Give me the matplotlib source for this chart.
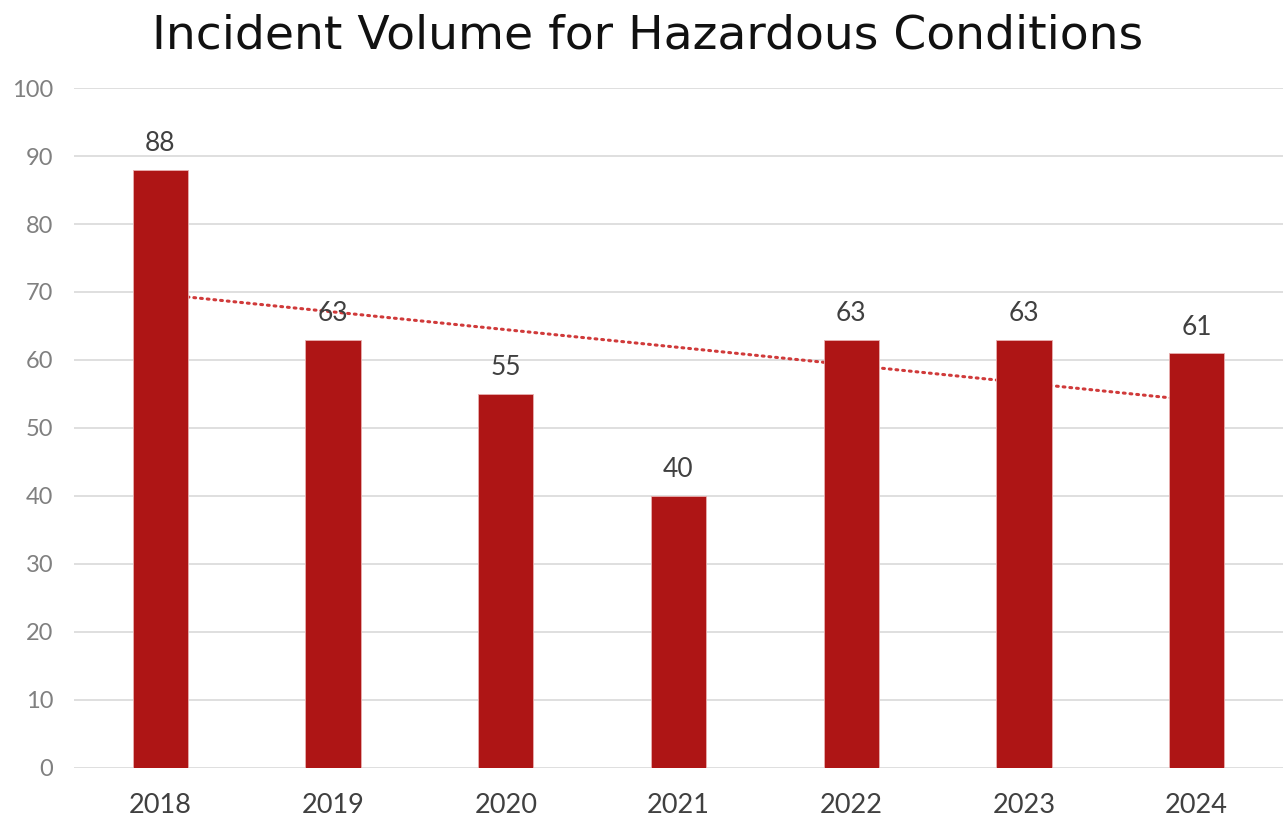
import numpy as np
import matplotlib
matplotlib.use("Agg")
import matplotlib.pyplot as plt

years = ["2018", "2019", "2020", "2021", "2022", "2023", "2024"]
incidents = [88, 63, 55, 40, 63, 63, 61]
y_ticks = [0, 10, 20, 30, 40, 50, 60, 70, 80, 90, 100]

plt.rcParams["font.family"] = ["Lato", "DejaVu Sans"]

fig = plt.figure(figsize=(12.83, 8.21), dpi=100)
ax = fig.add_axes([0.0577, 0.0646, 0.9423, 0.8282])

x = np.arange(len(years))
bar_color = "#AE1515"

# linear trendline, drawn behind the bars
slope, intercept = np.polyfit(x, incidents, 1)
ax.plot(x, slope * x + intercept, color="#D03A3A", lw=2.2,
        linestyle=(0, (0.6, 1.6)), dash_capstyle="round", zorder=2)

bars = ax.bar(x, incidents, width=0.32, color=bar_color,
              edgecolor="#E8B0B0", linewidth=0.6, zorder=3)

for xi, v in zip(x, incidents):
    ax.text(xi, v + 2.0, str(v), ha="center", va="bottom",
            fontsize=19, color="#404040", zorder=4)

ax.set_xlim(-0.5, len(years) - 0.5)
ax.set_ylim(0, 100)
ax.set_yticks(y_ticks)
ax.set_xticks(x)
ax.set_xticklabels(years)
ax.tick_params(axis="x", length=0, labelsize=19.5, labelcolor="#404040", pad=18)
ax.tick_params(axis="y", length=0, labelsize=17, labelcolor="#808080", pad=15)
for lbl in ax.get_yticklabels():
    lbl.set_horizontalalignment("right")

ax.grid(axis="y", color="#D9D9D9", linewidth=1.2, zorder=0)
ax.set_axisbelow(True)
for s in ax.spines.values():
    s.set_visible(False)

fig.suptitle("Incident Volume for Hazardous Conditions", x=0.505, y=0.984,
             va="top", fontsize=34, color="#111111",
             family=["DejaVu Sans"])

fig.savefig("out.png", dpi=100)
